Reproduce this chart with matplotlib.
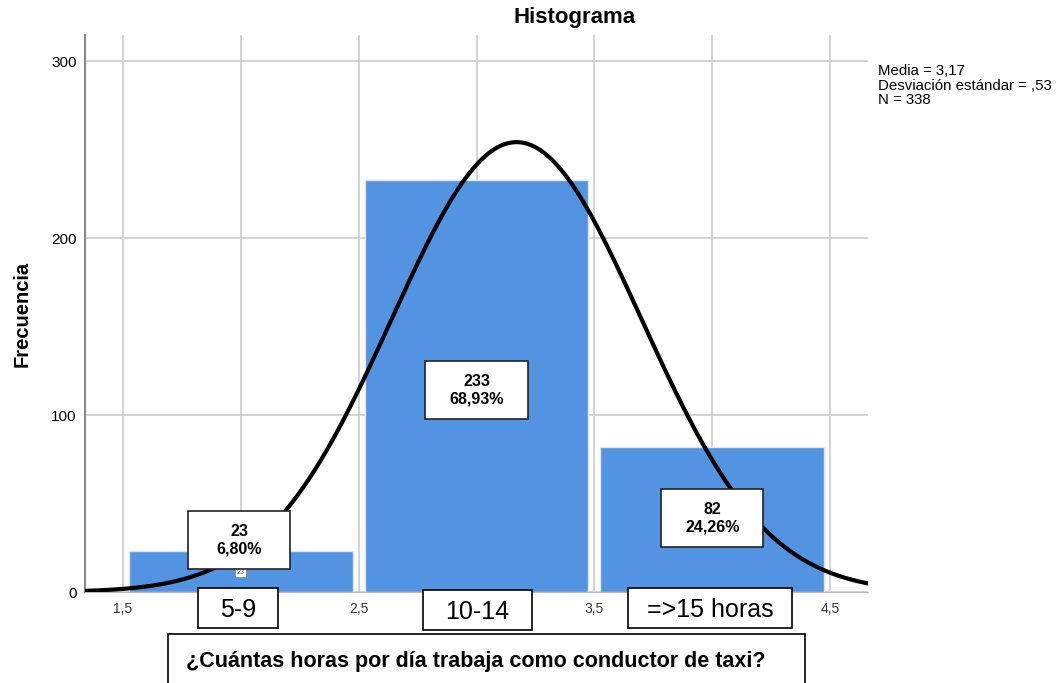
import numpy as np
import matplotlib.pyplot as plt
from matplotlib.patches import Rectangle

plt.rcParams['font.family'] = ['Liberation Sans', 'DejaVu Sans']

# data
centers = [2, 3, 4]
counts = [23, 233, 82]
pcts = ['6,80%', '68,93%', '24,26%']
cat_labels = ['5-9', '10-14', '=>15 horas']
media = 3.17
desv = 0.53
n = 338

fig = plt.figure(figsize=(10.6, 6.83), dpi=100)
ax = fig.add_axes([0.0802, 0.1332, 0.7387, 0.8156])

ax.set_xlim(1.339, 4.661)
ax.set_ylim(0, 315)
ax.set_xticks([1.5, 2.0, 2.5, 3.0, 3.5, 4.0, 4.5])
ax.set_xticklabels(['1,5', '', '2,5', '', '3,5', '', '4,5'], fontsize=10, color='#333333')
ax.set_yticks([0, 100, 200, 300])
ax.tick_params(axis='y', labelsize=11, length=0, pad=6)
ax.tick_params(axis='x', length=0, pad=7)
ax.grid(True, color='#cccccc', linewidth=1.2)
ax.set_axisbelow(True)
for s in ['top', 'right']:
    ax.spines[s].set_visible(False)
ax.spines['left'].set_color('#888888')
ax.spines['left'].set_linewidth(1.5)
ax.spines['bottom'].set_color('#bbbbbb')

ax.bar(centers, counts, width=0.95, color='#5294e2', edgecolor='#e4e4e4', linewidth=1.0, zorder=2)

# normal curve
xs = np.linspace(1.339, 4.661, 400)
ys = n * 1.0 / (desv * np.sqrt(2 * np.pi)) * np.exp(-0.5 * ((xs - media) / desv) ** 2)
ax.plot(xs, ys, color='black', linewidth=3, zorder=3)

# value boxes
box_y = [29.4, 114.3, 41.9]
bw, bh = 0.433, 32.8
for c, v, p, by in zip(centers, counts, pcts, box_y):
    cx = c - 0.007 if c == 2 else c
    ax.add_patch(Rectangle((cx - bw / 2, by - bh / 2), bw, bh, fc='white', ec='#222222',
                           lw=1.2, zorder=5))
    ax.text(cx, by, f'{v}\n{p}', ha='center', va='center', fontsize=11.5,
            fontweight='bold', linespacing=1.2, zorder=6)
    if c == 2:
        ax.text(c, 11.3, str(v), ha='center', va='center', fontsize=5, color='#555555', zorder=4,
                bbox=dict(boxstyle='square,pad=0.2', fc='white', ec='#888888', lw=0.6))

fig.text(575 / 1060, 1 - 18 / 683, 'Histograma', fontsize=16, fontweight='bold',
         ha='center', va='center')
ax.set_ylabel('Frecuencia', fontsize=14.5, fontweight='bold', labelpad=14)

fig.text(0.828, 1 - 64 / 683, f'Media = 3,17\nDesviación estándar = ,53\nN = {n}',
         fontsize=10.8, va='top', ha='left', linespacing=1.05)

# category boxes below axis
cat_boxes = [(198, 588, 80, 40), (423, 590, 109, 40), (628, 588, 164, 40)]
for lab, (bx, by, bw_, bh_) in zip(cat_labels, cat_boxes):
    fig.add_artist(Rectangle((bx / 1060, 1 - (by + bh_) / 683), bw_ / 1060, bh_ / 683,
                             transform=fig.transFigure, fc='white', ec='black', lw=1.2, zorder=6))
    fig.text((bx + bw_ / 2) / 1060, 1 - (by + bh_ / 2 + 2) / 683, lab, ha='center', va='center',
             fontsize=18, zorder=7)

fig.add_artist(Rectangle((168 / 1060, -0.01), 637 / 1060, 1 - 634 / 683 + 0.01,
                         transform=fig.transFigure, fc='white', ec='black', lw=1.2, zorder=6))
fig.text(476 / 1060, 1 - 662 / 683, '¿Cuántas horas por día trabaja como conductor de taxi?',
         ha='center', va='center', fontsize=15.5, fontweight='bold', zorder=7)

fig.savefig('out.png', dpi=100)
